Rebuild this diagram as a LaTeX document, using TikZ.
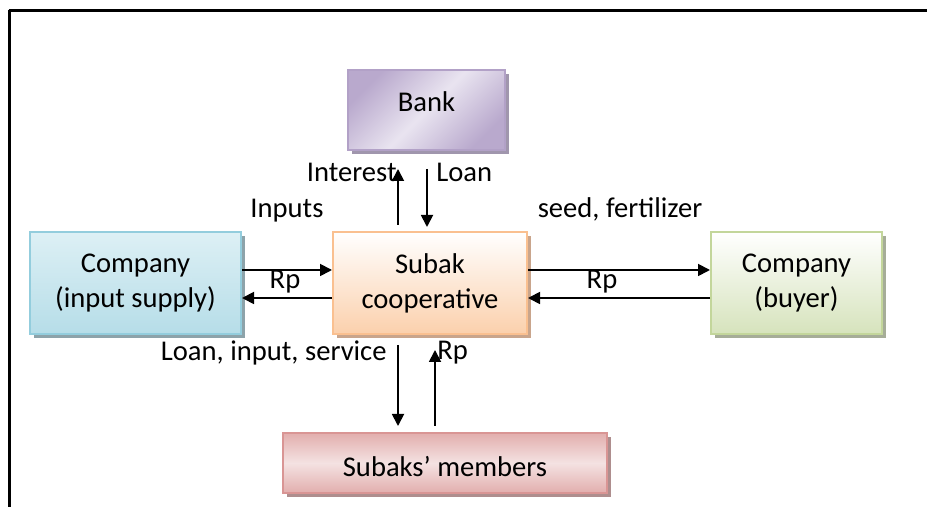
\documentclass[tikz,border=0pt]{standalone}
\usepackage{fontspec}
\setmainfont{Carlito}
\usetikzlibrary{shadows,calc,arrows.meta}
\definecolor{pBorder}{HTML}{B2A1C7}
\definecolor{pLight}{HTML}{E9E4F0}
\definecolor{pDark}{HTML}{B9A9CD}
\definecolor{pShadow}{HTML}{A096AD}
\definecolor{bBorder}{HTML}{93CDDD}
\definecolor{bTop}{HTML}{DDF0F5}
\definecolor{bBot}{HTML}{B6DDE8}
\definecolor{bShadow}{HTML}{8DA3AA}
\definecolor{oBorder}{HTML}{FAC090}
\definecolor{oTop}{HTML}{FFFFFF}
\definecolor{oBot}{HTML}{FBD0AC}
\definecolor{oShadow}{HTML}{C9A58C}
\definecolor{gBorder}{HTML}{C3D69B}
\definecolor{gTop}{HTML}{FFFFFF}
\definecolor{gBot}{HTML}{D6E3BC}
\definecolor{gShadow}{HTML}{A6AD98}
\definecolor{rBorder}{HTML}{D99594}
\definecolor{rEdge}{HTML}{E2AEAD}
\definecolor{rMid}{HTML}{F4E2E2}
\definecolor{rShadow}{HTML}{AE8E8E}
\begin{document}
\begin{tikzpicture}[x=0.5pt,y=-0.5pt,
  box/.style={rectangle, draw=#1, line width=1pt, inner sep=0pt, align=center,
    font=\fontsize{14.3}{17.5}\selectfont},
  lbl/.style={inner sep=0pt, font=\fontsize{14.3}{17.5}\selectfont},
  arr/.style={-{Triangle[length=6pt,width=6pt]}, line width=0.9pt},
  shd/.style={general shadow={shadow xshift=2pt, shadow yshift=-2pt, fill=#1}}]
\useasboundingbox (0,0) rectangle (927,507);
\fill[white] (0,0) rectangle (927,507);
% frame (top and left edges only)
\draw[line width=1.1pt] (8.5,10.5) -- (927,10.5);
\draw[line width=1.3pt] (9.5,10) -- (9.5,507);
% boxes
\node[box=pBorder, shd=pShadow, top color=pDark, bottom color=pDark, middle color=pLight,
  shading angle=45, minimum width=78.5pt, minimum height=40pt] (bank) at (426.5,110) {};
\node[lbl] (tbank) at ($(bank)+(0,-8)$) {Bank};
\node[box=bBorder, shd=bShadow, top color=bTop, bottom color=bBot,
  minimum width=105.5pt, minimum height=51pt] (cisup) at (135.5,283) {Company\\(input supply)};
\node[box=oBorder, shd=oShadow, top color=oTop, bottom color=oBot,
  minimum width=97pt, minimum height=51pt] (sub) at (430,283) {Subak\\cooperative};
\node[box=gBorder, shd=gShadow, top color=gTop, bottom color=gBot,
  minimum width=85.5pt, minimum height=51pt] (buyer) at (796.5,283) {Company\\(buyer)};
\node[box=rBorder, shd=rShadow, top color=rEdge, bottom color=rEdge, middle color=rMid,
  minimum width=162pt, minimum height=30pt] (mem) at (445,463) {};
\node[lbl] (tmem) at ($(mem)+(0,4)$) {Subaks’ members};
% helper coordinates
\coordinate (xa) at (398,0);
\coordinate (xb) at (427,0);
\coordinate (xc) at (435,0);
\coordinate (ya) at (0,270);
\coordinate (yb) at (0,298);
% connectors
\draw[arr, shorten <=3pt, shorten >=9pt] (sub.north -| xa) -- (bank.south -| xa);
\draw[arr, shorten <=9pt, shorten >=2pt] (bank.south -| xb) -- (sub.north -| xb);
\draw[arr] (cisup.east |- ya) -- (sub.west |- ya);
\draw[arr] (sub.west |- yb) -- (cisup.east |- yb);
\draw[arr] (sub.east |- ya) -- (buyer.west |- ya);
\draw[arr] (buyer.west |- yb) -- (sub.east |- yb);
\draw[arr, shorten <=5pt, shorten >=3pt] (sub.south -| xa) -- (mem.north -| xa);
\draw[arr, shorten <=3pt, shorten >=7.5pt] (mem.north -| xc) -- (sub.south -| xc);
% labels
\node[lbl, anchor=east] (tint) at (397,172) {Interest};
\node[lbl, anchor=west] (tloan) at (436,172) {Loan};
\node[lbl] (tinp) at (287,211) {Inputs};
\node[lbl] (tseed) at (620,209) {seed, fertilizer};
\node[lbl] (trp1) at (285,282) {Rp};
\node[lbl] (trp2) at (602,282) {Rp};
\node[lbl, anchor=east] (tlis) at (387,353) {Loan, input, service};
\node[lbl, anchor=west] (trp3) at (437,353) {Rp};
\end{tikzpicture}
\end{document}
